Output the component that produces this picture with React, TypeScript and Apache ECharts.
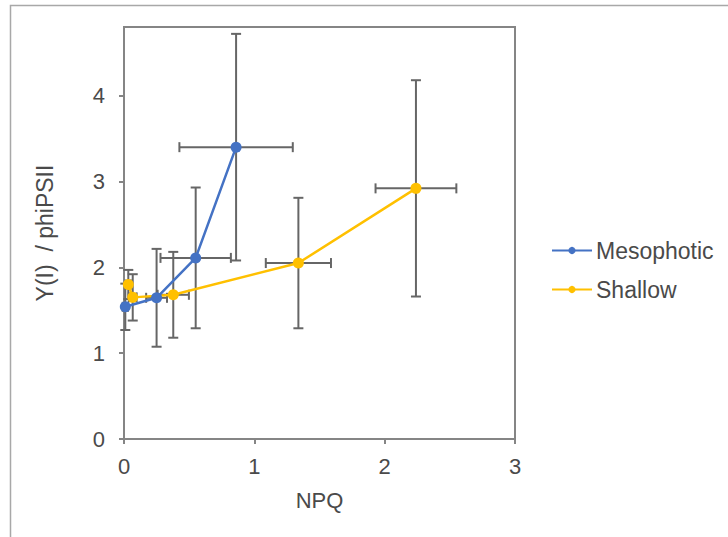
import React, { useEffect, useRef } from "react";
import * as echarts from "echarts";

// Mesophotic
const mesoNPQ = [0.01, 0.25, 0.55, 0.86];
const mesoY = [1.54, 1.645, 2.11, 3.4];
const mesoNPQErr = [0.02, 0.08, 0.27, 0.435];
const mesoYErr = [0.27, 0.57, 0.82, 1.32];

// Shallow
const shalNPQ = [0.033, 0.067, 0.378, 1.338, 2.24];
const shalY = [1.8, 1.65, 1.68, 2.05, 2.92];
const shalNPQErr = [0.02, 0.03, 0.12, 0.25, 0.31];
const shalYErr = [0.17, 0.27, 0.5, 0.76, 1.26];

const xTicks = [0, 1, 2, 3];
const yTicks = [0, 1, 2, 3, 4];

const FONT = "'Liberation Sans', Arial, sans-serif";
const TXT = "#4a4a4a";
const AXIS = "#858585";
const FS = 22;

const errRender = (params: any, api: any) => {
  const x = api.value(0);
  const y = api.value(1);
  const ex = api.value(2);
  const ey = api.value(3);
  const t = api.coord([x, y + ey]);
  const b = api.coord([x, y - ey]);
  const l = api.coord([x - ex, y]);
  const r = api.coord([x + ex, y]);
  const cap = 5;
  const style = { stroke: "#666666", lineWidth: 2, fill: null };
  const children: any[] = [
    { type: "line", shape: { x1: t[0], y1: t[1], x2: b[0], y2: b[1] }, style },
    { type: "line", shape: { x1: t[0] - cap, y1: t[1], x2: t[0] + cap, y2: t[1] }, style },
    { type: "line", shape: { x1: b[0] - cap, y1: b[1], x2: b[0] + cap, y2: b[1] }, style },
  ];
  if (ex > 0) {
    children.push(
      { type: "line", shape: { x1: l[0], y1: l[1], x2: r[0], y2: r[1] }, style },
      { type: "line", shape: { x1: l[0], y1: l[1] - cap, x2: l[0], y2: l[1] + cap }, style },
      { type: "line", shape: { x1: r[0], y1: r[1] - cap, x2: r[0], y2: r[1] + cap }, style }
    );
  }
  return { type: "group", children };
};

export default function App() {
  const ref = useRef<HTMLDivElement>(null);
  useEffect(() => {
    if (!ref.current) return;
    const chart = echarts.init(ref.current, null, { renderer: "svg" });
    const mesoData = mesoNPQ.map((v, i) => [v, mesoY[i]]);
    const shalData = shalNPQ.map((v, i) => [v, shalY[i]]);
    const mesoErr = mesoNPQ.map((v, i) => [v, mesoY[i], mesoNPQErr[i], mesoYErr[i]]);
    const shalErr = shalNPQ.map((v, i) => [v, shalY[i], shalNPQErr[i], shalYErr[i]]);
    chart.setOption({
      animation: false,
      backgroundColor: "#ffffff",
      textStyle: { fontFamily: FONT },
      graphic: [
        {
          type: "rect",
          shape: { x: 10.5, y: 5.5, width: 900, height: 900 },
          style: { fill: "none", stroke: "#a8a8a8", lineWidth: 1.5 },
          silent: true,
        },
      ],
      grid: {
        left: 124,
        right: 213,
        top: 27,
        bottom: 98,
        show: true,
        borderColor: AXIS,
        borderWidth: 2,
        backgroundColor: "transparent",
      },
      legend: {
        orient: "vertical",
        left: 546,
        top: 234,
        itemWidth: 40,
        itemHeight: 9,
        itemGap: 16,
        data: ["Mesophotic", "Shallow"],
        textStyle: { fontFamily: FONT, fontSize: FS + 1, color: TXT, padding: [0, 0, 0, -1] },
      },
      xAxis: {
        type: "value",
        min: 0,
        max: 3,
        interval: 1,
        name: "NPQ",
        nameLocation: "middle",
        nameGap: 50,
        nameTextStyle: { fontFamily: FONT, fontSize: FS, color: TXT },
        axisLine: { show: true, onZero: false, lineStyle: { color: AXIS, width: 2 } },
        axisTick: { show: true, inside: false, length: 5, lineStyle: { color: AXIS, width: 2 }, customValues: xTicks },
        axisLabel: { fontFamily: FONT, fontSize: FS, color: TXT, margin: 16, customValues: xTicks },
        splitLine: { show: false },
      },
      yAxis: {
        type: "value",
        min: 0,
        max: 4.8,
        interval: 1,
        name: "Y(I)  / phiPSII",
        nameLocation: "middle",
        nameGap: 68,
        nameTextStyle: { fontFamily: FONT, fontSize: FS + 1, color: TXT },
        axisLine: { show: true, onZero: false, lineStyle: { color: AXIS, width: 2 } },
        axisTick: { show: true, inside: false, length: 5, lineStyle: { color: AXIS, width: 2 }, customValues: yTicks },
        axisLabel: { fontFamily: FONT, fontSize: FS, color: TXT, margin: 19, customValues: yTicks },
        splitLine: { show: false },
      },
      series: [
        {
          type: "custom",
          name: "mesoErr",
          renderItem: errRender,
          data: mesoErr,
          encode: { x: 0, y: 1 },
          z: 1,
          silent: true,
        },
        {
          type: "custom",
          name: "shalErr",
          renderItem: errRender,
          data: shalErr,
          encode: { x: 0, y: 1 },
          z: 1,
          silent: true,
        },
        {
          type: "line",
          name: "Mesophotic",
          data: mesoData,
          color: "#4472C4",
          lineStyle: { width: 2.5, color: "#4472C4" },
          itemStyle: { color: "#4472C4" },
          symbol: "circle",
          symbolSize: 11,
          z: 3,
        },
        {
          type: "line",
          name: "Shallow",
          data: shalData,
          color: "#FFC000",
          lineStyle: { width: 2.5, color: "#FFC000" },
          itemStyle: { color: "#FFC000" },
          symbol: "circle",
          symbolSize: 11,
          z: 2,
        },
      ],
    });
    return () => chart.dispose();
  }, []);
  return (
    <div
      ref={ref}
      style={{ position: "fixed", left: 0, top: 0, width: 728, height: 537 }}
    />
  );
}
